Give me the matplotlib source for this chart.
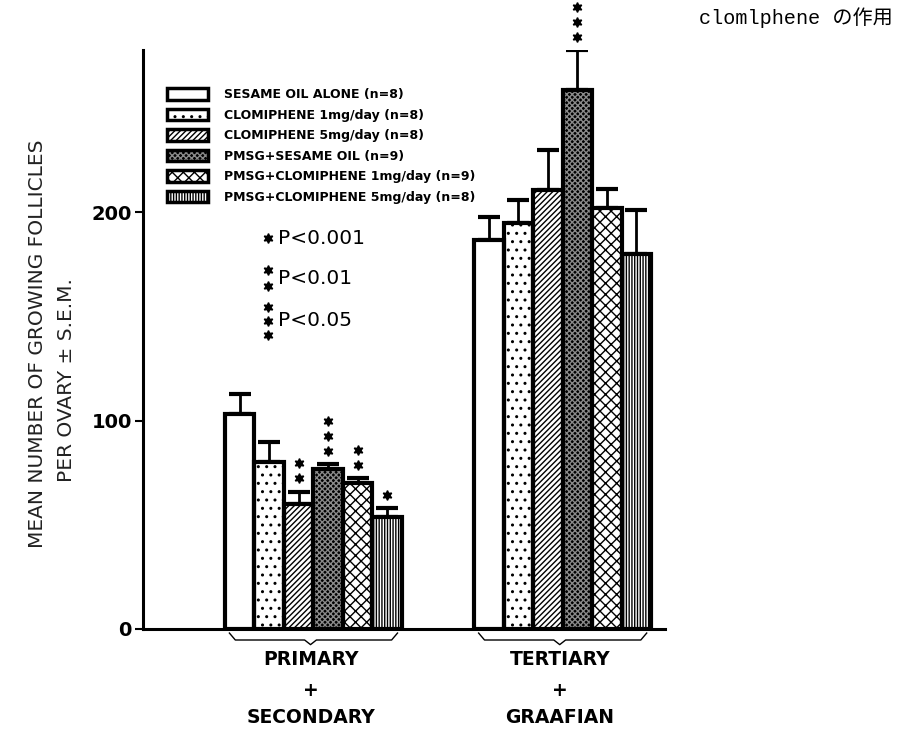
import matplotlib
matplotlib.use("Agg")
import matplotlib.pyplot as plt
import numpy as np
from matplotlib.patches import Rectangle
from matplotlib.transforms import offset_copy, blended_transform_factory

plt.rcParams['font.family'] = ['DejaVu Sans']
plt.rcParams['hatch.linewidth'] = 1.0

# follicle counts per ovary, one value per treatment
treatments = ["SESAME OIL ALONE (n=8)",
              "CLOMIPHENE 1mg/day (n=8)",
              "CLOMIPHENE 5mg/day (n=8)",
              "PMSG+SESAME OIL (n=9)",
              "PMSG+CLOMIPHENE 1mg/day (n=9)",
              "PMSG+CLOMIPHENE 5mg/day (n=8)"]
groups = [["PRIMARY", "+", "SECONDARY"], ["TERTIARY", "+", "GRAAFIAN"]]

mean_primary = [103, 80, 60, 77, 70, 54]
sem_primary = [10, 10, 6, 2, 2.5, 4]
stars_primary = [0, 0, 2, 3, 2, 1]

mean_tertiary = [187, 195, 211, 259, 202, 180]
sem_tertiary = [11, 11, 19, 19, 9.5, 21]
stars_tertiary = [0, 0, 0, 3, 0, 0]

# fill colour, hatch colour, hatch pattern for each treatment
styles = [("white", "black", None),
          ("white", "black", ".."),
          ("white", "black", "//////"),
          ("black", "#8a8a8a", "xxxxxx"),
          ("white", "black", "xxx"),
          ("white", "black", "||||||")]

W, H = 905, 731
fig = plt.figure(figsize=(W / 100, H / 100), dpi=100)
AX_L, AX_R, AX_B, AX_T = 143, 665, 629, 50
ax = fig.add_axes([AX_L / W, 1 - AX_B / H, (AX_R - AX_L) / W, (AX_B - AX_T) / H])

group_offset = 8.45
x1 = np.arange(6).astype(float)
x2 = x1 + group_offset

handles = []
for i, (fc, hc, hatch) in enumerate(styles):
    xs = [x1[i], x2[i]]
    hs = [mean_primary[i], mean_tertiary[i]]
    ax.bar(xs, hs, width=1.0, color=fc, edgecolor=hc, hatch=hatch,
           linewidth=0, zorder=2)
    ax.bar(xs, hs, width=1.0, fill=False, edgecolor="black",
           linewidth=3, zorder=3)
    ax.errorbar(xs, hs, yerr=[[0, 0], [sem_primary[i], sem_tertiary[i]]],
                fmt="none", ecolor="black", elinewidth=2, capsize=8,
                capthick=3, zorder=1)
    handles.append((Rectangle((0, 0), 1, 1, facecolor=fc, edgecolor=hc,
                              hatch=hatch, linewidth=0),
                    Rectangle((0, 0), 1, 1, fill=False, edgecolor="black",
                              linewidth=2.5)))

# significance asterisks stacked above the error bars
for xs, means, sems, stars in [(x1, mean_primary, sem_primary, stars_primary),
                               (x2, mean_tertiary, sem_tertiary, stars_tertiary)]:
    for x, m, s, n in zip(xs, means, sems, stars):
        for k in range(n):
            tr = offset_copy(ax.transData, fig=fig, y=9.5 + 10.8 * k, units="points")
            ax.plot(x, m + s, marker=(6, 1, 0), markersize=7, color="black",
                    transform=tr, clip_on=False, zorder=4)

ax.set_xlim(-3.28, 14.42)
ax.set_ylim(0, 278)
ax.spines["top"].set_visible(False)
ax.spines["right"].set_visible(False)
ax.spines["left"].set_linewidth(2.2)
ax.spines["bottom"].set_linewidth(2.2)
ax.set_xticks([])
ax.set_yticks([0, 100, 200])
ax.tick_params(axis="y", direction="out", length=6, width=1.5, pad=2,
               labelsize=14)
for lab in ax.get_yticklabels():
    lab.set_fontweight("bold")

# braces and group names under the axis
bt = blended_transform_factory(ax.transData, ax.transAxes)
for gx, names in zip([x1, x2], groups):
    left, right = gx[0] - 0.35, gx[-1] + 0.35
    mid = (left + right) / 2 - 0.1
    bx = [left, left + 0.2, mid - 0.2, mid, mid + 0.2, right - 0.2, right]
    by = [-0.007, -0.019, -0.019, -0.027, -0.019, -0.019, -0.007]
    ax.plot(bx, by, color="black", lw=1, transform=bt, clip_on=False)
    for name, dy in zip(names, [22.3, 44, 63.4]):
        ax.annotate(name, xy=(np.mean(gx) - 0.1, 0), xycoords=("data", "axes fraction"),
                    xytext=(0, -dy), textcoords="offset points",
                    ha="center", va="center", fontsize=13.5, fontweight="bold")

leg = ax.legend(handles, treatments, loc="upper left",
                bbox_to_anchor=(167 / W, 1 - 88 / H),
                bbox_transform=fig.transFigure, frameon=False,
                prop={"weight": "bold", "size": 9},
                handlelength=3.3, handleheight=1.05, handletextpad=1.3,
                labelspacing=0.6, borderpad=0, borderaxespad=0)

# key for the asterisks
def fx(px):
    return (px - AX_L) / (AX_R - AX_L)

def fy(py):
    return (AX_B - py) / (AX_B - AX_T)

key = [([238], 238, "P<0.001"),
       ([270, 286], 279, "P<0.01"),
       ([307, 321, 335], 320, "P<0.05")]
for ys, ty, txt in key:
    for y in ys:
        ax.plot(fx(268), fy(y), marker=(6, 1, 0), markersize=7, color="black",
                transform=ax.transAxes, clip_on=False)
    ax.text(fx(278), fy(ty), txt, transform=ax.transAxes, ha="left",
            va="center", fontsize=14.5)

fig.text(38 / W, 1 - 344 / H, "MEAN NUMBER OF GROWING FOLLICLES",
         rotation=90, ha="center", va="center", fontsize=14.5, color="#222222")
fig.text(66 / W, 1 - 380 / H, "PER OVARY \u00b1 S.E.M.",
         rotation=90, ha="center", va="center", fontsize=14.5, color="#222222")

fig.text(893 / W, 1 - 18 / H, "clomlphene の作用", ha="right", va="center",
         fontsize=14.5, family=["Liberation Mono", "Noto Sans CJK JP"])

fig.savefig("out.png", dpi=100)
